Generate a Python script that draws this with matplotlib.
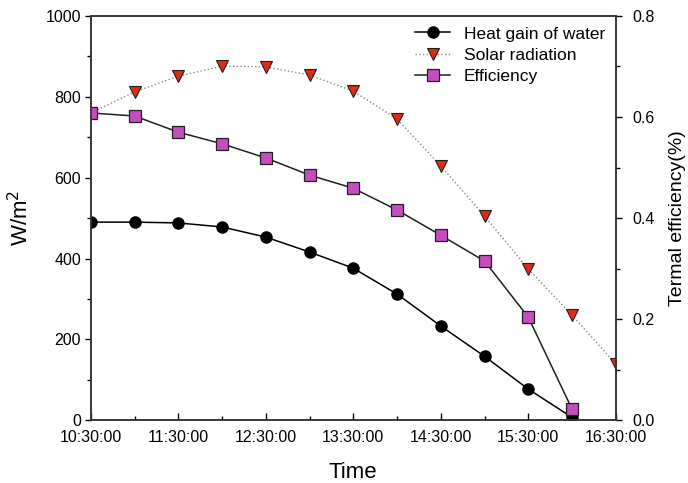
import numpy as np
from matplotlib import pyplot as plt

plt.rcParams['font.family'] = ['Liberation Sans', 'DejaVu Sans']

times = ['10:30:00', '11:00:00', '11:30:00', '12:00:00', '12:30:00', '13:00:00', '13:30:00',
         '14:00:00', '14:30:00', '15:00:00', '15:30:00', '16:00:00', '16:30:00']
heat_gain = [490, 490, 488, 478, 453, 416, 376, 312, 233, 158, 77, 7]
solar = [760, 812, 851, 876, 874, 854, 814, 745, 629, 505, 374, 260, 139]
efficiency = [0.608, 0.602, 0.570, 0.547, 0.519, 0.485, 0.459, 0.416, 0.366, 0.315, 0.204, 0.022]
tick_labels = ['10:30:00', '11:30:00', '12:30:00', '13:30:00', '14:30:00', '15:30:00', '16:30:00']


def to_hours(t):
    h, m, s = t.split(':')
    return int(h) + int(m) / 60 + int(s) / 3600


x = np.array([to_hours(t) for t in times])

fig = plt.figure(figsize=(6.88, 4.83), dpi=100)
ax = fig.add_axes([0.132, 0.130, 0.763, 0.837])
ax2 = ax.twinx()

l1, = ax.plot(x[:len(heat_gain)], heat_gain, '-', color='black', lw=1.1,
              marker='o', ms=8, mfc='black', mec='black', label='Heat gain of water')
l2, = ax.plot(x[:len(solar)], solar, ':', color='#888888', lw=1.0,
              marker='v', ms=8, mfc='#e02a18', mec='#202020', mew=0.8, label='Solar radiation')
l3, = ax2.plot(x[:len(efficiency)], efficiency, '-', color='#202020', lw=1.1,
               marker='s', ms=8, mfc='#c44ec0', mec='#202020', mew=0.9, label='Efficiency')

ax.set_xlim(10.5, 16.5)
ax.set_ylim(0, 1000)
ax2.set_ylim(0, 0.8)
ax.set_xticks([to_hours(t) for t in tick_labels])
ax.set_xticklabels(tick_labels)
ax.set_xticks(np.arange(11.0, 16.5, 1.0), minor=True)
ax.set_yticks(np.arange(0, 1001, 200))
ax.set_yticks(np.arange(100, 1000, 200), minor=True)
ax2.set_yticks(np.arange(0, 0.81, 0.2))
ax2.set_yticks(np.arange(0.1, 0.8, 0.2), minor=True)
ax2.yaxis.set_major_formatter(plt.FormatStrFormatter('%.1f'))

ax.tick_params(axis='x', which='major', direction='in', length=5, width=1, labelsize=11.5, pad=7)
ax.tick_params(axis='x', which='minor', direction='in', length=3, width=1)
ax.tick_params(axis='x', top=False)
ax.tick_params(axis='y', which='major', direction='out', length=4, width=1, labelsize=11.5, pad=3)
ax.tick_params(axis='y', which='minor', direction='out', length=3, width=1)
ax2.tick_params(axis='y', which='major', direction='out', length=4, width=1, labelsize=11.5, pad=8)
ax2.tick_params(axis='y', which='minor', direction='out', length=3, width=1)
for a in (ax, ax2):
    for sp in a.spines.values():
        sp.set_linewidth(1.1)
        sp.set_color('#333333')

ax.set_xlabel('Time', fontsize=16, labelpad=12)
ax.set_ylabel('W/m$^2$', fontsize=16, labelpad=9)
ax2.set_ylabel('Termal efficiency(%)', fontsize=14, labelpad=10)

ax.legend(handles=[l1, l2, l3], loc='upper right', frameon=False, fontsize=12.5,
          handlelength=2.0, labelspacing=0.35, borderaxespad=0.2)

fig.savefig('out.png', dpi=100)
